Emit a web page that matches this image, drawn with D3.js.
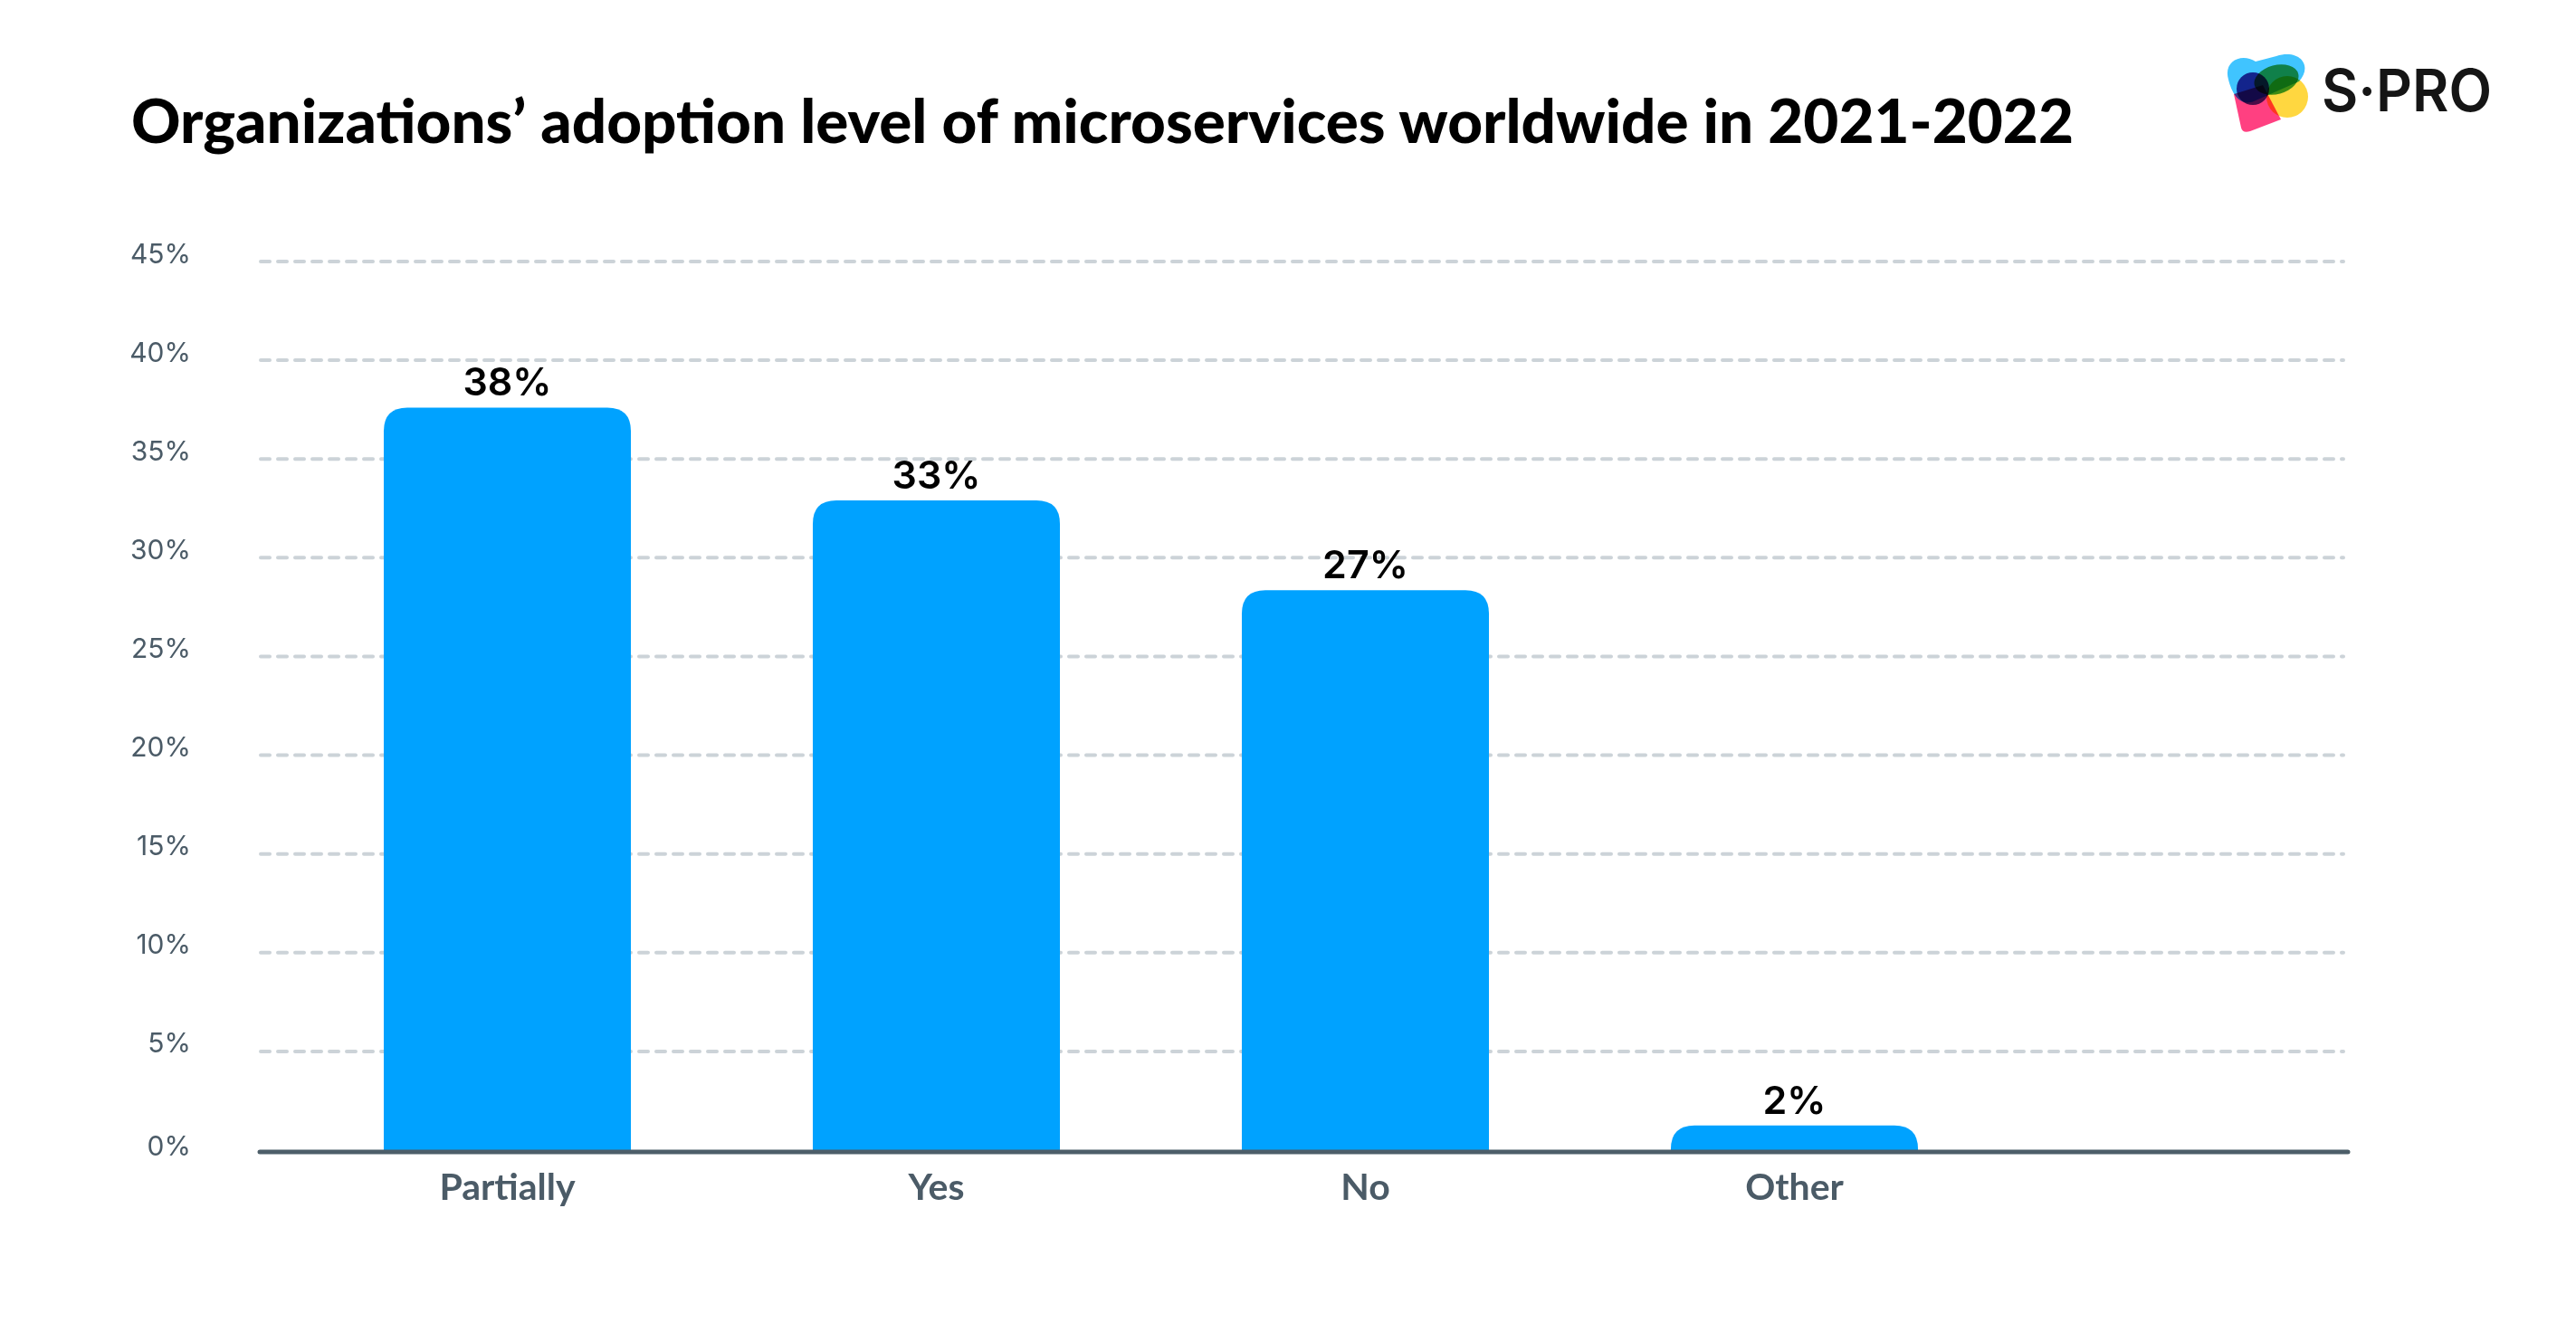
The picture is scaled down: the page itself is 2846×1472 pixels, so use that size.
<!DOCTYPE html>
<html>
<head>
<meta charset="utf-8">
<script src="https://cdn.jsdelivr.net/npm/d3@7"></script>
<style>
  html, body { margin: 0; padding: 0; background: #ffffff; }
  svg { display: block; }
</style>
</head>
<body>
<svg id="chart" width="2846" height="1472"></svg>
<script>
// ---- data ----
const categories = ["Partially", "Yes", "No", "Other"];
const values = [37.6, 32.9, 28.35, 1.25];          // bar heights as drawn
const valueLabels = ["38%", "33%", "27%", "2%"];    // printed labels
const yTicks = [0, 5, 10, 15, 20, 25, 30, 35, 40, 45];
const title = "Organizations’ adoption level of microservices worldwide in 2021-2022";

// ---- layout ----
const svg = d3.select("#chart");
const W = 2846, H = 1472;
svg.append("rect").attr("width", W).attr("height", H).attr("fill", "#ffffff");

const y = d3.scaleLinear().domain([0, 45]).range([1271, 289]);
const x = d3.scaleBand().domain(categories)
  .range([323.5, 2219.5]).paddingInner(0.424).paddingOuter(0.212);

const gridX0 = 288, gridX1 = 2589;

// gridlines
svg.append("g").selectAll("line")
  .data(yTicks.filter(t => t > 0))
  .join("line")
  .attr("x1", gridX0).attr("x2", gridX1)
  .attr("y1", d => y(d)).attr("y2", d => y(d))
  .attr("stroke", "#ccd3d8")
  .attr("stroke-width", 4)
  .attr("stroke-linecap", "round")
  .attr("stroke-dasharray", "10 9");

// y tick labels via axis
const yAxis = d3.axisLeft(y).tickValues(yTicks).tickFormat(d => d + "%").tickSize(0).tickPadding(0);
const yg = svg.append("g").attr("transform", "translate(211,0)").call(yAxis);
yg.select(".domain").remove();
yg.selectAll("text")
  .attr("font-family", "Inter, 'Noto Sans', sans-serif")
  .attr("font-size", 30)
  .attr("font-weight", 400)
  .attr("fill", "#4b5b67")
  .attr("dy", null)
  .attr("y", d => (d === 0 ? 5 : 1))
  .attr("dominant-baseline", "auto");

// bars with rounded top corners
const r = 26;
function barPath(d, i) {
  const x0 = x(d), w = x.bandwidth();
  const yt = y(values[i]), yb = y(0);
  const h = yb - yt;
  const rr = Math.min(r, h, w / 2);
  return `M${x0},${yb} L${x0},${yt + rr} Q${x0},${yt} ${x0 + rr},${yt} L${x0 + w - rr},${yt} Q${x0 + w},${yt} ${x0 + w},${yt + rr} L${x0 + w},${yb} Z`;
}
svg.append("g").selectAll("path")
  .data(categories)
  .join("path")
  .attr("d", (d, i) => barPath(d, i))
  .attr("fill", "#00a2ff");

// value labels
svg.append("g").selectAll("text")
  .data(categories)
  .join("text")
  .attr("x", d => x(d) + x.bandwidth() / 2)
  .attr("y", (d, i) => y(values[i]) - 13)
  .attr("text-anchor", "middle")
  .attr("font-family", "Inter, 'Noto Sans', sans-serif")
  .attr("font-size", 43)
  .attr("font-weight", 600)
  .attr("fill", "#000000")
  .text((d, i) => valueLabels[i]);

// x axis baseline
svg.append("line")
  .attr("x1", 287).attr("x2", 2594)
  .attr("y1", 1273).attr("y2", 1273)
  .attr("stroke", "#4d5e69")
  .attr("stroke-width", 5)
  .attr("stroke-linecap", "round");

// x labels via axis
const xAxis = d3.axisBottom(x).tickSize(0).tickPadding(0);
const xg = svg.append("g").attr("transform", "translate(0,1326)").call(xAxis);
xg.select(".domain").remove();
xg.selectAll("text")
  .attr("font-family", "Lato, 'Open Sans', sans-serif")
  .attr("font-size", 41)
  .attr("font-weight", 700)
  .attr("fill", "#4b5b67")
  .attr("y", 0)
  .attr("dy", null);

// title
svg.append("text")
  .attr("x", 145).attr("y", 158)
  .attr("font-family", "Lato, 'Open Sans', sans-serif")
  .attr("font-size", 66)
  .attr("font-weight", 900)
  .attr("fill", "#000000")
  .attr("textLength", 2146)
  .attr("lengthAdjust", "spacingAndGlyphs")
  .text(title);

// logo
const logo = svg.append("g");
logo.append("path")
  .attr("d", "M2462,88 C2456,68 2476,58 2492,68 L2515,62 C2540,54 2556,72 2540,90 L2490,112 C2475,118 2466,104 2462,88 Z")
  .attr("fill", "#40c4ff");
logo.append("path")
  .attr("d", "M2468,104 L2500,94 L2520,132 L2486,145 C2480,147 2477,145 2476,141 Z")
  .attr("fill", "#ff4081").style("mix-blend-mode", "multiply");
logo.append("circle").attr("cx", 2527).attr("cy", 107).attr("r", 23)
  .attr("fill", "#ffd740").style("mix-blend-mode", "multiply");
logo.append("ellipse").attr("cx", 2515).attr("cy", 88).attr("rx", 25).attr("ry", 16)
  .attr("transform", "rotate(-15,2515,88)")
  .attr("fill", "#3ea64a").style("mix-blend-mode", "multiply");
logo.append("circle").attr("cx", 2489).attr("cy", 98).attr("r", 18)
  .attr("fill", "#4a2f8c").style("mix-blend-mode", "multiply");

svg.append("text")
  .attr("x", 2565).attr("y", 123)
  .attr("font-family", "Inter, 'Noto Sans', sans-serif")
  .attr("font-size", 64)
  .attr("font-weight", 600)
  .attr("fill", "#151515")
  .attr("textLength", 188)
  .attr("lengthAdjust", "spacingAndGlyphs")
  .text("S·PRO");
</script>
</body>
</html>
